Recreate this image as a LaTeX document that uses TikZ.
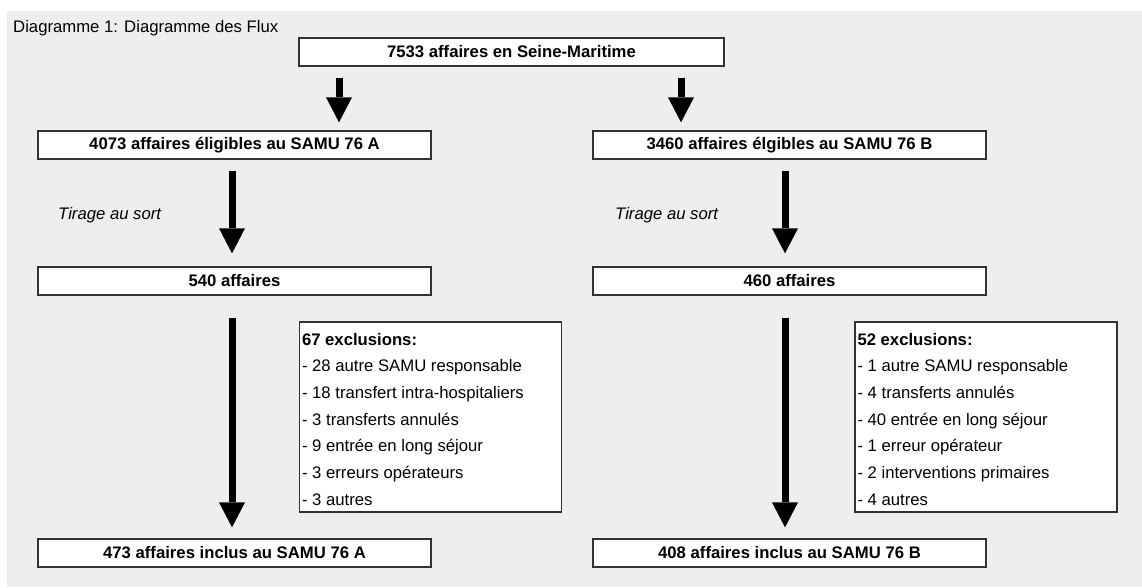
\documentclass[tikz,border=0pt]{standalone}
\usepackage{fontspec}
\setmainfont{Liberation Sans}
\usetikzlibrary{arrows.meta}
\definecolor{bggray}{HTML}{EEEEEE}
\definecolor{edge}{HTML}{333333}
\tikzset{
  flowbox/.style={draw=edge, line width=1.3pt, fill=white, minimum height=28pt,
    inner sep=0pt, font=\fontsize{16.7}{20}\selectfont\bfseries},
  exbox/.style={draw=edge, line width=1.3pt, fill=white, minimum width=262pt,
    minimum height=190pt, inner xsep=2.5pt, inner ysep=0pt,
    font=\fontsize{16.7}{26.7}\selectfont},
  bigarrow/.style={line width=7pt, -{Triangle[width=26pt,length=25pt,line width=0pt]}},
  lbl/.style={inner sep=0pt, font=\fontsize{16.7}{20}\selectfont}
}
\begin{document}
\begin{tikzpicture}[x=1pt,y=-1pt]
\useasboundingbox (0,0) rectangle (1142,587);
\fill[white] (0,0) rectangle (1142,587);
\fill[bggray] (7,11) rectangle (1142,587);

\node[lbl, anchor=base west] (title) at (13,32) {Diagramme 1: Diagramme des Flux};

\node[flowbox, minimum width=425pt] (top) at (511.5,52) {7533 affaires en Seine-Maritime};
\node[flowbox, minimum width=393pt] (a1) at (234.5,145) {4073 affaires éligibles au SAMU 76 A};
\node[flowbox, minimum width=393pt] (b1) at (789.5,145) {3460 affaires élgibles au SAMU 76 B};
\node[flowbox, minimum width=393pt] (a2) at (234.5,281) {540 affaires};
\node[flowbox, minimum width=393pt] (b2) at (789.5,281) {460 affaires};
\node[flowbox, minimum width=393pt] (a3) at (234.5,553) {473 affaires inclus au SAMU 76 A};
\node[flowbox, minimum width=393pt] (b3) at (789.5,553) {408 affaires inclus au SAMU 76 B};

\node[lbl, anchor=west] (tA) at (58,215) {\itshape Tirage au sort};
\node[lbl, anchor=west] (tB) at (615,215) {\itshape Tirage au sort};

\node[exbox] (exA) at (430.5,417) {\parbox[c][184pt][t]{257pt}{\raggedright
\rule{0pt}{20pt}\textbf{67 exclusions:}\\
- 28 autre SAMU responsable\\
- 18 transfert intra-hospitaliers\\
- 3 transferts annulés\\
- 9 entrée en long séjour\\
- 3 erreurs opérateurs\\
- 3 autres}};
\node[exbox] (exB) at (986,417) {\parbox[c][184pt][t]{257pt}{\raggedright
\rule{0pt}{20pt}\textbf{52 exclusions:}\\
- 1 autre SAMU responsable\\
- 4 transferts annulés\\
- 40 entrée en long séjour\\
- 1 erreur opérateur\\
- 2 interventions primaires\\
- 4 autres}};

\coordinate (xL1) at (339,0);
\coordinate (xR1) at (681,0);
\coordinate (xL) at (232,0);
\coordinate (xR) at (785,0);

\draw[bigarrow, shorten <=11pt, shorten >=8pt] (top.south -| xL1) -- (a1.north -| xL1);
\draw[bigarrow, shorten <=11pt, shorten >=8pt] (top.south -| xR1) -- (b1.north -| xR1);
\draw[bigarrow, shorten <=11pt, shorten >=13pt] (a1.south -| xL) -- (a2.north -| xL);
\draw[bigarrow, shorten <=11pt, shorten >=13pt] (b1.south -| xR) -- (b2.north -| xR);
\draw[bigarrow, shorten <=22pt, shorten >=11pt] (a2.south -| xL) -- (a3.north -| xL);
\draw[bigarrow, shorten <=22pt, shorten >=11pt] (b2.south -| xR) -- (b3.north -| xR);
\end{tikzpicture}
\end{document}
